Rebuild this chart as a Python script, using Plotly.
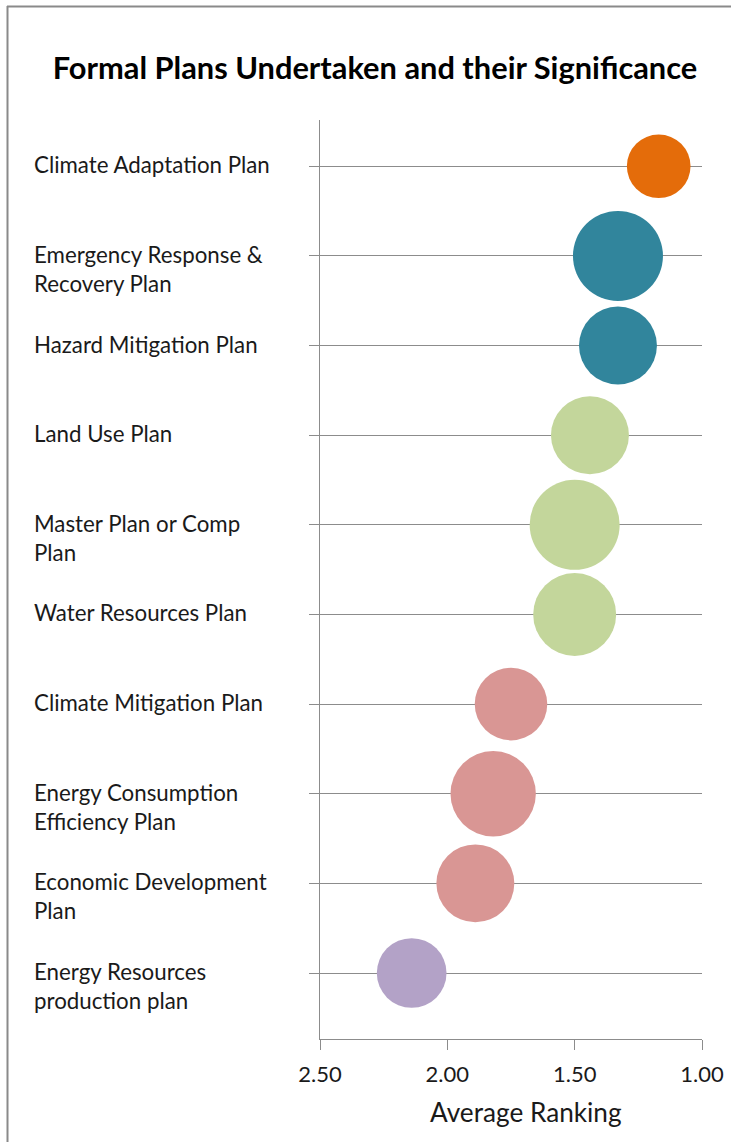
import plotly.graph_objects as go

# ---- data ----
plans = [
    "Climate Adaptation Plan",
    "Emergency Response &\nRecovery Plan",
    "Hazard Mitigation Plan",
    "Land Use Plan",
    "Master Plan or Comp\nPlan",
    "Water Resources Plan",
    "Climate Mitigation Plan",
    "Energy Consumption\nEfficiency Plan",
    "Economic Development\nPlan",
    "Energy Resources\nproduction plan",
]
avg_ranking = [1.17, 1.33, 1.33, 1.44, 1.50, 1.50, 1.75, 1.82, 1.89, 2.14]
bubble_size = [10, 20, 15, 15, 20, 17, 13, 18, 15, 12]
colors = ["#E46C0A", "#31859C", "#31859C", "#C3D69B", "#C3D69B", "#C3D69B",
          "#D99694", "#D99694", "#D99694", "#B3A2C7"]
x_ticks = [2.5, 2.0, 1.5, 1.0]

W, H = 731, 1142
L, R, T, B = 320, 29, 120, 103
pw, ph = W - L - R, H - T - B

font_family = "Lato, 'Open Sans', sans-serif"
text_color = "#1a1a1a"
grid_color = "#8c8c8c"

positions = list(range(len(plans)))

fig = go.Figure()
max_diam = 90
fig.add_trace(go.Scatter(
    x=avg_ranking,
    y=positions,
    mode="markers",
    marker=dict(
        size=bubble_size,
        sizemode="area",
        sizeref=2 * max(bubble_size) / (max_diam ** 2),
        color=colors,
        opacity=1,
        line=dict(width=0),
    ),
    hoverinfo="skip",
    showlegend=False,
))

annotations = []
for i, label in enumerate(plans):
    for k, line in enumerate(label.split("\n")):
        annotations.append(dict(
            x=(32 - L) / pw, xref="paper", xanchor="left",
            y=i, yref="y", yanchor="middle", yshift=1.5 - 29 * k,
            text=line, showarrow=False, align="left",
            font=dict(family=font_family, size=22.3, color=text_color),
        ))

annotations.append(dict(
    x=(526 - L) / pw, xref="paper", xanchor="center",
    y=-(1112 - (T + ph)) / ph, yref="paper", yanchor="middle",
    text="Average Ranking", showarrow=False,
    font=dict(family=font_family, size=26.2, color=text_color),
))

shapes = [
    dict(type="line", xref="paper", yref="paper",
         x0=(7.5 - L) / pw, x1=(7.5 - L) / pw,
         y0=(T + ph - 6) / ph, y1=-(H + 10 - (T + ph)) / ph,
         line=dict(color="#8a8a8a", width=2)),
    dict(type="line", xref="paper", yref="paper",
         x0=(7 - L) / pw, x1=(W + 10 - L) / pw,
         y0=(T + ph - 6.5) / ph, y1=(T + ph - 6.5) / ph,
         line=dict(color="#8a8a8a", width=2)),
]

fig.update_layout(
    width=W, height=H,
    margin=dict(l=L, r=R, t=T, b=B, pad=0, autoexpand=False),
    paper_bgcolor="white", plot_bgcolor="white",
    title=dict(
        text="<b>Formal Plans Undertaken and their Significance</b>",
        x=375 / W, xanchor="center", xref="container",
        y=1 - 68.5 / H, yanchor="middle",
        font=dict(family=font_family, size=30.8, color="#000000"),
    ),
    annotations=annotations,
    shapes=shapes,
    xaxis=dict(
        range=[2.5, 1.0],
        tickvals=x_ticks,
        ticktext=[f"{v:.2f}" for v in x_ticks],
        showgrid=False, zeroline=False,
        showline=True, linecolor=grid_color, linewidth=1,
        ticks="outside", ticklen=10, tickcolor=grid_color, tickwidth=1,
        ticklabelstandoff=6,
        automargin=False,
        tickfont=dict(family=font_family, size=22, color=text_color),
    ),
    yaxis=dict(
        range=[9 + 66 / 89.63, -46.3 / 89.63],
        tickvals=positions,
        showticklabels=False,
        showgrid=True, gridcolor=grid_color, gridwidth=1,
        zeroline=False, automargin=False,
        showline=True, linecolor=grid_color, linewidth=1,
        ticks="outside", ticklen=10, tickcolor=grid_color, tickwidth=1,
    ),
)

fig.write_html("out.html")
